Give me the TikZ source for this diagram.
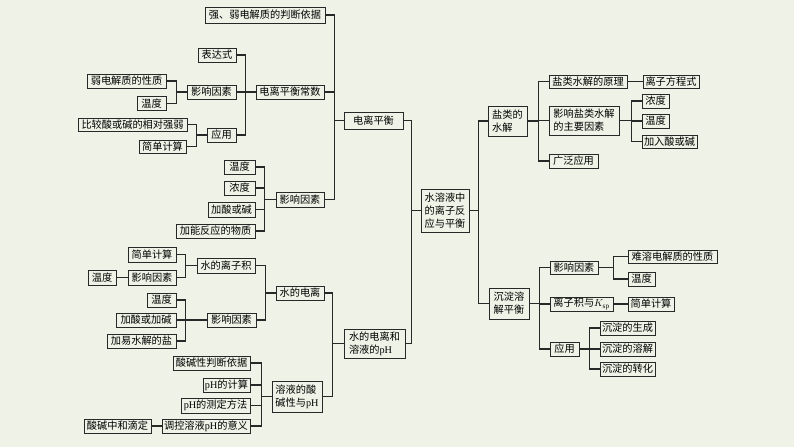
\documentclass[tikz,border=0pt]{standalone}
\usepackage{fontspec}
\setmainfont{Liberation Serif}
\newfontfamily\cjk{Noto Sans CJK SC}
\usetikzlibrary{shadows}
\definecolor{bg}{RGB}{239,243,231}
\definecolor{ln}{RGB}{40,40,40}
\begin{document}
\begin{tikzpicture}[x=1pt,y=-1pt,
 bx/.style={draw=ln, line width=1pt, fill=bg, inner sep=0pt, minimum height=14pt,
   align=center, font=\cjk\fontsize{10.2}{13}\selectfont, text=black,
   drop shadow={shadow xshift=0.8pt, shadow yshift=-0.8pt, opacity=0.75, fill=ln}},
 ml/.style={align=left},
 cn/.style={draw=ln, line width=1.1pt}]
\fill[bg] (0,0) rectangle (794,447);
\useasboundingbox (0,0) rectangle (794,447);
% left: ionization equilibrium
\node[bx, minimum width=120pt, minimum height=16pt] (n1) at (265,15) {强、弱电解质的判断依据};
\node[bx, minimum width=38pt] (a) at (217,55) {表达式};
\node[bx, minimum width=68pt] (b) at (290,92) {电离平衡常数};
\node[bx, minimum width=49pt] (c) at (211.5,92) {影响因素};
\node[bx, minimum width=79pt] (d) at (126.5,81) {弱电解质的性质};
\node[bx, minimum width=29pt] (e) at (151.5,103.5) {温度};
\node[bx, minimum width=109pt, minimum height=13pt] (f) at (132.5,124.5) {比较酸或碱的相对强弱};
\node[bx, minimum width=29pt] (g) at (221.5,135) {应用};
\node[bx, minimum width=47pt, minimum height=13pt] (h) at (162.5,146.5) {简单计算};
\node[bx, minimum width=59pt, minimum height=17pt] (ion) at (373.5,120.5) {电离平衡};
\node[bx, minimum width=48pt, minimum height=15pt] (i) at (300,199.5) {影响因素};
\node[bx, minimum width=31pt] (j) at (239.5,167) {温度};
\node[bx, minimum width=31pt] (k) at (239.5,188) {浓度};
\node[bx, minimum width=47pt, minimum height=15pt] (l) at (231.5,209.5) {加酸或碱};
\node[bx, minimum width=79pt] (m) at (215.5,231) {加能反应的物质};
% left: water ionization and pH
\node[bx, minimum width=58pt, minimum height=15pt] (w1) at (226,265.5) {水的离子积};
\node[bx, minimum width=48pt, minimum height=15pt] (w2) at (152,254.5) {简单计算};
\node[bx, minimum width=48pt, minimum height=15pt] (w3) at (152,277.5) {影响因素};
\node[bx, minimum width=28pt, minimum height=15pt] (w4) at (102,277.5) {温度};
\node[bx, minimum width=48pt] (we) at (300,293) {水的电离};
\node[bx, minimum width=49pt] (wf) at (231.5,320) {影响因素};
\node[bx, minimum width=29pt] (wg) at (161.5,300) {温度};
\node[bx, minimum width=60pt] (wh) at (146,320) {加酸或加碱};
\node[bx, minimum width=69pt] (wi) at (141.5,341) {加易水解的盐};
\node[bx, ml, minimum width=61pt, minimum height=29pt] (wph) at (374.5,343.5) {水的电离和\\溶液的\textrm{pH}};
\node[bx, ml, minimum width=50pt, minimum height=31pt] (sa) at (297,396.5) {溶液的酸\\碱性与\textrm{pH}};
\node[bx, minimum width=77pt] (sb) at (211.5,363) {酸碱性判断依据};
\node[bx, minimum width=47pt] (sc) at (226.5,385) {\textrm{pH}的计算};
\node[bx, minimum width=69pt, minimum height=15pt] (sd) at (215.5,405.5) {\textrm{pH}的测定方法};
\node[bx, minimum width=88pt] (se) at (206,426) {调控溶液\textrm{pH}的意义};
\node[bx, minimum width=67pt] (sf) at (117.5,426) {酸碱中和滴定};
% root
\node[bx, ml, minimum width=48pt, minimum height=43pt] (root) at (445,210.5) {水溶液中\\的离子反\\应与平衡};
% right: hydrolysis
\node[bx, ml, minimum width=39pt, minimum height=30pt] (R1) at (507.5,121) {盐类的\\水解};
\node[bx, minimum width=78pt, minimum height=13pt] (r1) at (588,81.5) {盐类水解的原理};
\node[bx, minimum width=56pt, minimum height=13pt] (r2) at (671,81.5) {离子方程式};
\node[bx, ml, minimum width=70pt, minimum height=29pt] (r3) at (584,120.5) {影响盐类水解\\的主要因素};
\node[bx, minimum width=27pt] (r4) at (655.5,101) {浓度};
\node[bx, minimum width=27pt] (r5) at (655.5,121) {温度};
\node[bx, minimum width=55pt, minimum height=13pt] (r6) at (669.5,141.5) {加入酸或碱};
\node[bx, minimum width=49pt] (r7) at (573.5,161) {广泛应用};
% right: precipitation
\node[bx, ml, minimum width=40pt, minimum height=31pt] (R2) at (509,303.5) {沉淀溶\\解平衡};
\node[bx, minimum width=48pt, minimum height=13pt] (s1) at (574,267.5) {影响因素};
\node[bx, minimum width=89pt, minimum height=13pt] (s2) at (672.5,256.5) {难溶电解质的性质};
\node[bx, minimum width=27pt] (s3) at (641.5,279) {温度};
\node[bx, minimum width=63pt] (s4) at (581.5,304) {离子积与$K_{\mathrm{sp}}$};
\node[bx, minimum width=46pt] (s5) at (651,304) {简单计算};
\node[bx, minimum width=29pt] (s6) at (564.5,349) {应用};
\node[bx, minimum width=55pt] (s7) at (627.5,328) {沉淀的生成};
\node[bx, minimum width=55pt] (s8) at (627.5,349) {沉淀的溶解};
\node[bx, minimum width=55pt] (s9) at (627.5,369) {沉淀的转化};
% connectors, left side
\foreach \c in {n1,b,i} \draw[cn] (ion.west) -- ++(-9,0) |- (\c.east);
\foreach \c in {a,c,g} \draw[cn] (b.west) -- ++(-10,0) |- (\c.east);
\foreach \c in {d,e} \draw[cn] (c.west) -- ++(-10,0) |- (\c.east);
\foreach \c in {f,h} \draw[cn] (g.west) -- ++(-10,0) |- (\c.east);
\foreach \c in {j,k,l,m} \draw[cn] (i.west) -- ++(-11,0) |- (\c.east);
\foreach \c in {ion,wph} \draw[cn] (root.west) -- ++(-9,0) |- (\c.east);
\foreach \c in {we,sa} \draw[cn] (wph.west) -- ++(-11,0) |- (\c.east);
\foreach \c in {w1,wf} \draw[cn] (we.west) -- ++(-10,0) |- (\c.east);
\foreach \c in {w2,w3} \draw[cn] (w1.west) -- ++(-11,0) |- (\c.east);
\draw[cn] (w3.west) -- (w4.east);
\foreach \c in {wg,wh,wi} \draw[cn] (wf.west) -- ++(-21,0) |- (\c.east);
\foreach \c in {sb,sc,sd,se} \draw[cn] (sa.west) -- ++(-10,0) |- (\c.east);
\draw[cn] (se.west) -- (sf.east);
% connectors, right side
\foreach \c in {R1,R2} \draw[cn] (root.east) -- ++(9,0) |- (\c.west);
\foreach \c in {r1,r3,r7} \draw[cn] (R1.east) -- ++(11,0) |- (\c.west);
\draw[cn] (r1.east) -- (r2.west);
\foreach \c in {r4,r5,r6} \draw[cn] (r3.east) -- ++(12,0) |- (\c.west);
\foreach \c in {s1,s4,s6} \draw[cn] (R2.east) -- ++(10,0) |- (\c.west);
\foreach \c in {s2,s3} \draw[cn] (s1.east) -- ++(15,0) |- (\c.west);
\draw[cn] (s4.east) -- (s5.west);
\foreach \c in {s7,s8,s9} \draw[cn] (s6.east) -- ++(10,0) |- (\c.west);
\end{tikzpicture}
\end{document}
